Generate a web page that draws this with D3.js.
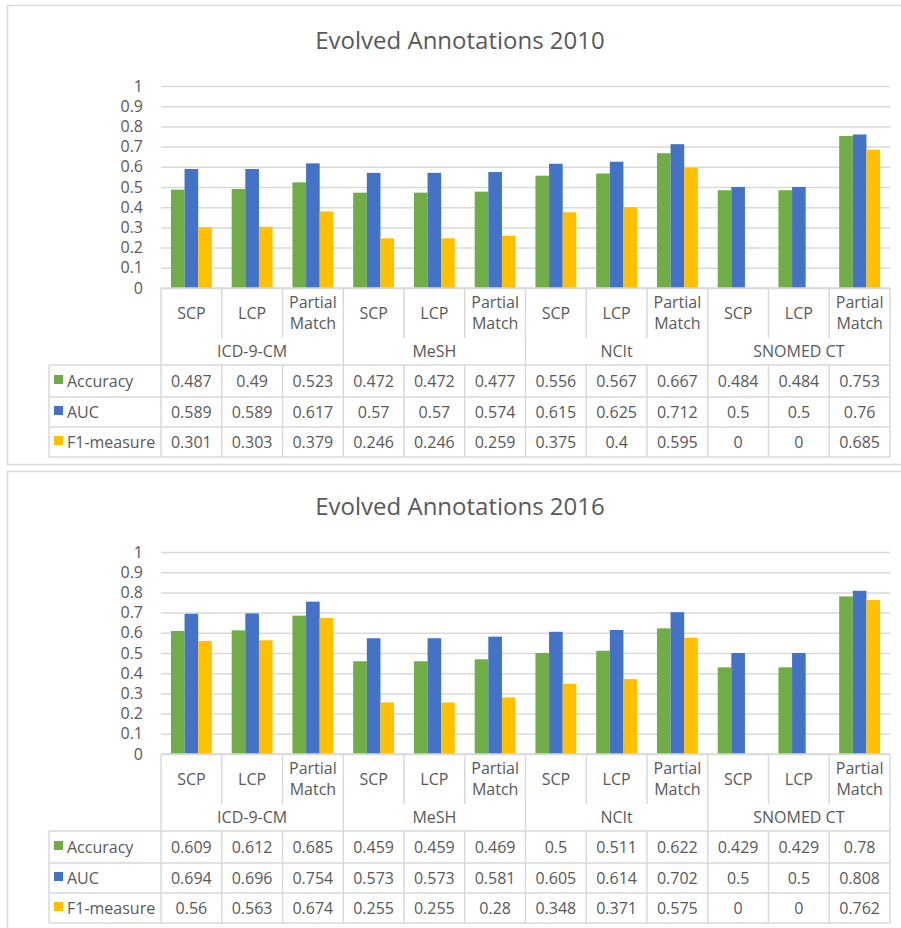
<!DOCTYPE html>
<meta charset="utf-8">
<style>
    body { margin: 0; background: #fff; }
    text { font-family: "Open Sans", "Noto Sans", sans-serif; fill: #595959; }
    .title { font-size: 24px; text-anchor: middle; }
    .tick text { font-size: 16px; }
    .cell { font-size: 16px; text-anchor: middle; }
    .lbl { font-size: 16px; }
    .grid line { stroke: #d9d9d9; stroke-width: 1.5px; }
    .tbl line { stroke: #d9d9d9; stroke-width: 1.5px; }
</style>
<body>
<script src="https://d3js.org/d3.v7.min.js"></script>
<script>
var groups = ["ICD-9-CM", "MeSH", "NCIt", "SNOMED CT"];
var methods = ["SCP", "LCP", "Partial Match"];
var seriesNames = ["Accuracy", "AUC", "F1-measure"];
var seriesColors = ["#70ad47", "#4472c4", "#ffc000"];
var yTicks = [0, 0.1, 0.2, 0.3, 0.4, 0.5, 0.6, 0.7, 0.8, 0.9, 1];

var accuracy2010 = [0.487, 0.49, 0.523, 0.472, 0.472, 0.477, 0.556, 0.567, 0.667, 0.484, 0.484, 0.753];
var auc2010 = [0.589, 0.589, 0.617, 0.57, 0.57, 0.574, 0.615, 0.625, 0.712, 0.5, 0.5, 0.76];
var f12010 = [0.301, 0.303, 0.379, 0.246, 0.246, 0.259, 0.375, 0.4, 0.595, 0, 0, 0.685];

var accuracy2016 = [0.609, 0.612, 0.685, 0.459, 0.459, 0.469, 0.5, 0.511, 0.622, 0.429, 0.429, 0.78];
var auc2016 = [0.694, 0.696, 0.754, 0.573, 0.573, 0.581, 0.605, 0.614, 0.702, 0.5, 0.5, 0.808];
var f12016 = [0.56, 0.563, 0.674, 0.255, 0.255, 0.28, 0.348, 0.371, 0.575, 0, 0, 0.762];

// one column per group/method pair
var cats = [];
groups.forEach(function(g) {
    methods.forEach(function(m) { cats.push({group: g, method: m}); });
});

var svg = d3.select("body").append("svg").attr("width", 901).attr("height", 928);

var x = d3.scaleBand().domain(d3.range(cats.length)).range([161, 890]);
var xs = d3.scaleBand().domain(seriesNames).range([0, x.bandwidth()]).paddingOuter(0.73);
var y = d3.scaleLinear().domain([0, 1]).range([288, 86]);

function drawPanel(top, title, series) {
    var g = svg.append("g").attr("transform", "translate(0," + top + ")");

    g.append("rect").attr("x", 7.5).attr("y", 5.5).attr("width", 920).attr("height", 459)
        .attr("fill", "none").attr("stroke", "#d9d9d9").attr("stroke-width", 1.5);

    g.append("text").attr("class", "title").attr("x", 460).attr("y", 49).text(title);

    g.append("g").attr("class", "grid")
        .attr("transform", "translate(161,0)")
        .call(d3.axisLeft(y).tickValues(yTicks).tickSize(-(890 - 161)).tickPadding(18)
            .tickFormat(function(d) { return String(d); }))
        .call(function(a) { a.select(".domain").remove(); });

    // bars
    series.forEach(function(vals, si) {
        g.append("g").selectAll("rect").data(vals).join("rect")
            .attr("x", function(d, i) { return x(i) + xs(seriesNames[si]); })
            .attr("width", xs.bandwidth())
            .attr("y", function(d) { return y(d); })
            .attr("height", function(d) { return y(0) - y(d); })
            .attr("fill", seriesColors[si]);
    });

    // data table
    var t = g.append("g").attr("class", "tbl");
    var y0 = y(0), hdr = 338, grp = 365, rows = [365, 397, 427, 457];
    var xl = 49, xr = 890;

    t.append("line").attr("x1", 161).attr("x2", xr).attr("y1", y0).attr("y2", y0);
    rows.forEach(function(ry) {
        t.append("line").attr("x1", xl).attr("x2", xr).attr("y1", ry).attr("y2", ry);
    });
    t.append("line").attr("x1", xl).attr("x2", xl).attr("y1", grp).attr("y2", rows[3]);

    d3.range(cats.length + 1).forEach(function(i) {
        var xx = i < cats.length ? x(i) : xr;
        var groupEdge = i % methods.length === 0;
        t.append("line").attr("x1", xx).attr("x2", xx).attr("y1", y0).attr("y2", groupEdge ? grp : hdr);
        t.append("line").attr("x1", xx).attr("x2", xx).attr("y1", grp).attr("y2", rows[3]);
    });

    cats.forEach(function(c, i) {
        var parts = c.method.split(" ");
        var cx = x(i) + x.bandwidth() / 2;
        var mid = (y0 + hdr) / 2;
        parts.forEach(function(p, k) {
            t.append("text").attr("class", "cell").attr("x", cx)
                .attr("y", mid + (k - (parts.length - 1) / 2) * 21).attr("dy", "0.35em").text(p);
        });
    });

    groups.forEach(function(gn, gi) {
        var x1 = x(gi * methods.length), x2 = gi === groups.length - 1 ? xr : x((gi + 1) * methods.length);
        t.append("text").attr("class", "cell").attr("x", (x1 + x2) / 2)
            .attr("y", (hdr + grp) / 2).attr("dy", "0.35em").text(gn);
    });

    series.forEach(function(vals, si) {
        var cy = (rows[si] + rows[si + 1]) / 2;
        t.append("rect").attr("x", 54).attr("y", cy - 6).attr("width", 9).attr("height", 9)
            .attr("fill", seriesColors[si]);
        t.append("text").attr("class", "lbl").attr("x", 67).attr("y", cy).attr("dy", "0.35em")
            .text(seriesNames[si]);
        vals.forEach(function(v, i) {
            t.append("text").attr("class", "cell").attr("x", x(i) + x.bandwidth() / 2)
                .attr("y", cy).attr("dy", "0.35em").text(String(v));
        });
    });
}

drawPanel(0, "Evolved Annotations 2010", [accuracy2010, auc2010, f12010]);
drawPanel(466, "Evolved Annotations 2016", [accuracy2016, auc2016, f12016]);
</script>
</body>
